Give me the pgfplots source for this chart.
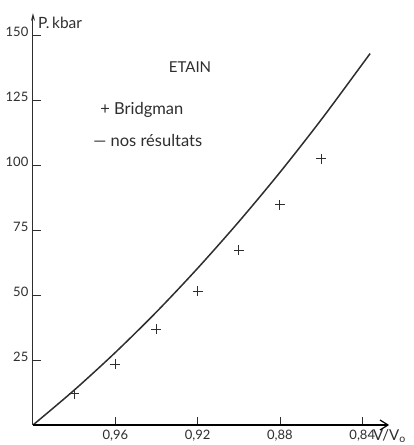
\documentclass[border=0pt]{standalone}
\usepackage{pgfplots}
\pgfplotsset{compat=1.18}
\usetikzlibrary{arrows.meta}
\usepackage{fontspec}
\setmainfont{Lato}
\definecolor{ink}{HTML}{2E2E2E}
\begin{document}
\fontsize{13.5}{16}\selectfont
\begin{tikzpicture}
\useasboundingbox (-33pt,-20pt) rectangle (380pt,425pt);
\begin{axis}[
  scale only axis, width=355pt, height=412pt,
  x dir=reverse,
  xmin=0.8275, xmax=1.0, ymin=0, ymax=158.5,
  axis lines=left,
  axis line style={ink, line width=1pt},
  x axis line style={draw=none},
  y axis line style={-{Stealth[length=8pt,width=4pt]}},
  xtick={0.96,0.92,0.88,0.84},
  xticklabels={0{,}96,0{,}92,0{,}88,0{,}84},
  ytick={25,50,75,100,125,150},
  tick align=inside, major tick length=8pt,
  tick style={ink, line width=0.9pt},
  every tick label/.append style={text=ink, font=\fontsize{13}{16}\selectfont},
  xticklabel style={anchor=north, yshift=0pt},
  yticklabel style={anchor=east, yshift=3pt},
  /pgf/number format/assume math mode=true,
  clip=false,
]
\addplot[ink, line width=1.5pt, smooth] coordinates {
(1.00,0) (0.98,13.4) (0.96,27.9) (0.94,43.5) (0.92,60.3)
(0.90,78.2) (0.88,97.2) (0.86,117.4) (0.84,138.8) (0.8362,142.9)
};
\addplot[only marks, mark=+, mark size=5pt, mark options={ink, line width=1pt}] coordinates {
(0.98,12.1) (0.96,23.3) (0.94,36.8) (0.92,51.5) (0.90,67.2) (0.88,84.7) (0.86,102.4)
};
\node[anchor=center, text=ink, font=\fontsize{15}{18}\selectfont] at (axis cs:0.9237,137.7) {ETAIN};
\node[anchor=west, text=ink, inner sep=0pt, font=\fontsize{16.5}{19}\selectfont] at (axis cs:0.9674,121.2) {+ Bridgman};
\node[anchor=west, text=ink, inner sep=0pt, font=\fontsize{16.5}{19}\selectfont] at (axis cs:0.9708,109.6) {— nos résultats};
\node[anchor=west, text=ink, inner sep=0pt, font=\fontsize{15.5}{18}\selectfont] at (axis cs:0.9976,154.6) {P.\,kbar};
\node[anchor=west, text=ink, inner sep=0pt, font=\fontsize{15}{18}\selectfont] at (axis cs:0.8348,-4.2) {V/V\textsubscript{o}};
\end{axis}
\draw[black, line width=1.2pt] (0pt,0pt) -- (355pt,0pt);
\draw[black, line width=1.2pt] (347pt,5pt) -- (355pt,0pt) -- (347pt,-5pt);
\end{tikzpicture}
\end{document}
